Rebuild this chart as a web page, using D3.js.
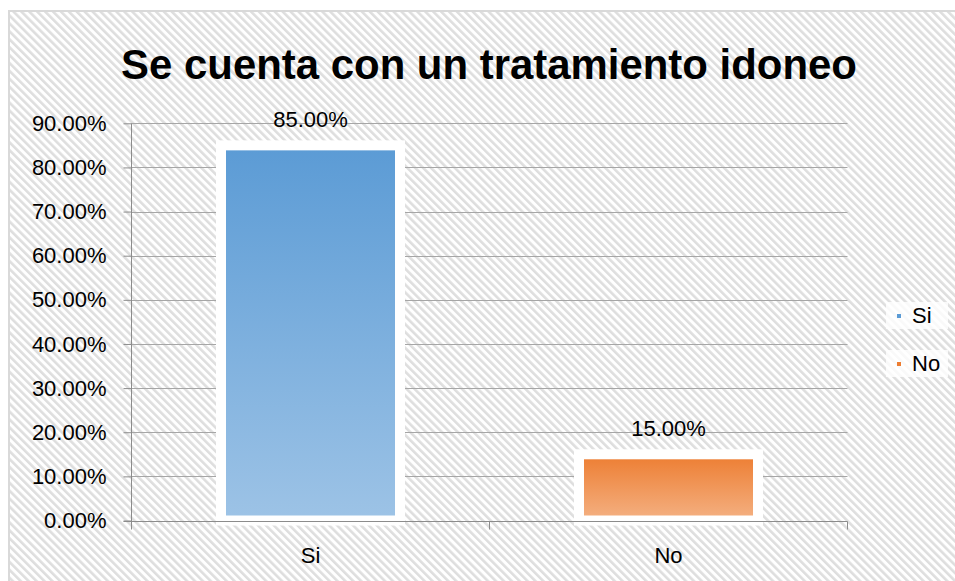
<!DOCTYPE html>
<html>
<head>
<meta charset="utf-8">
<script src="https://cdn.jsdelivr.net/npm/d3@7"></script>
<style>
  html, body { margin: 0; padding: 0; background: #fff; }
  svg { display: block; font-family: "Liberation Sans", Arial, sans-serif; }
</style>
</head>
<body>
<svg id="chart" width="955" height="581"></svg>
<script>
// chart data
const categories = ["Si", "No"];
const values = [0.85, 0.15];
const yTicks = [0, 0.1, 0.2, 0.3, 0.4, 0.5, 0.6, 0.7, 0.8, 0.9];
const title = "Se cuenta con un tratamiento idoneo";
const barColors = [
    { top: "#5b9bd5", bottom: "#9dc3e6" },
    { top: "#ed7d31", bottom: "#f4b183" }
];

const svg = d3.select("#chart");
const fmt = d => (d * 100).toFixed(2) + "%";
const labelSize = 22;

// hatched background
const defs = svg.append("defs");
const pat = defs.append("pattern")
    .attr("id", "hatch")
    .attr("patternUnits", "userSpaceOnUse")
    .attr("width", 5.6)
    .attr("height", 5.6)
    .attr("patternTransform", "rotate(-45)");
pat.append("rect").attr("width", 5.6).attr("height", 5.6).attr("fill", "#ffffff");
pat.append("rect").attr("width", 2.6).attr("height", 5.6).attr("fill", "#dedede");

barColors.forEach((c, i) => {
    const g = defs.append("linearGradient")
        .attr("id", "grad" + i)
        .attr("x1", 0).attr("y1", 0).attr("x2", 0).attr("y2", 1);
    g.append("stop").attr("offset", "0%").attr("stop-color", c.top);
    g.append("stop").attr("offset", "100%").attr("stop-color", c.bottom);
});

svg.append("rect")
    .attr("x", 9).attr("y", 11)
    .attr("width", 960).attr("height", 580)
    .attr("fill", "url(#hatch)")
    .attr("stroke", "#d9d9d9")
    .attr("stroke-width", 2);

// scales
const x = d3.scaleBand()
    .domain(categories)
    .range([131.5, 847.5])
    .paddingInner(0.5)
    .paddingOuter(0.25);

const y = d3.scaleLinear()
    .domain([0, 0.9])
    .range([520.5, 123.3]);

// gridlines
svg.append("g")
    .selectAll("line")
    .data(yTicks.slice(1))
    .join("line")
    .attr("x1", 131.5).attr("x2", 847.5)
    .attr("y1", d => Math.round(y(d)) + 0.5)
    .attr("y2", d => Math.round(y(d)) + 0.5)
    .attr("stroke", "#a6a6a6")
    .attr("stroke-width", 1);

// bars
svg.append("g")
    .selectAll("rect")
    .data(values)
    .join("rect")
    .attr("x", (d, i) => x(categories[i]))
    .attr("width", x.bandwidth())
    .attr("y", d => y(d))
    .attr("height", d => y(0) - y(d))
    .attr("fill", (d, i) => "url(#grad" + i + ")")
    .attr("stroke", "#ffffff")
    .attr("stroke-width", 10);

// y axis
const yAxis = svg.append("g")
    .attr("transform", "translate(131.5,0)")
    .call(d3.axisLeft(y).tickValues(yTicks).tickFormat(fmt).tickSize(8).tickPadding(17));
yAxis.select(".domain").attr("stroke", "#8c8c8c").attr("d", "M0," + y(0.9) + "V" + (y(0) + 8));
yAxis.selectAll(".tick line").attr("stroke", "#8c8c8c");
yAxis.selectAll(".tick text")
    .attr("font-size", labelSize)
    .attr("font-family", "Liberation Sans, Arial, sans-serif")
    .attr("fill", "#000");

// x axis
const xAxis = svg.append("g")
    .attr("transform", "translate(0," + (Math.round(y(0)) + 0.5) + ")")
    .call(d3.axisBottom(x).tickSize(0).tickPadding(26));
xAxis.select(".domain").attr("stroke", "#8c8c8c").attr("d", "M123.5,0H847.5");
xAxis.selectAll(".tick text")
    .attr("font-size", labelSize)
    .attr("font-family", "Liberation Sans, Arial, sans-serif")
    .attr("fill", "#000");
const xBounds = [131.5, 489.5, 847.5];
xAxis.append("g")
    .selectAll("line")
    .data(xBounds)
    .join("line")
    .attr("x1", d => d).attr("x2", d => d)
    .attr("y1", 0).attr("y2", 8)
    .attr("stroke", "#8c8c8c");

// data labels
svg.append("g")
    .selectAll("text")
    .data(values)
    .join("text")
    .attr("x", (d, i) => x(categories[i]) + x.bandwidth() / 2)
    .attr("y", d => y(d) - 18)
    .attr("text-anchor", "middle")
    .attr("font-size", labelSize)
    .attr("fill", "#000")
    .text(fmt);

// title
const t = svg.append("text")
    .attr("x", 489)
    .attr("y", 79)
    .attr("text-anchor", "middle")
    .attr("font-size", 40)
    .attr("font-weight", "bold")
    .attr("fill", "#000")
    .text(title);
const tw = t.node().getComputedTextLength();
t.attr("font-size", 40 * 736 / tw);

// legend
const legend = svg.append("g")
    .selectAll("g")
    .data(categories)
    .join("g")
    .attr("transform", (d, i) => "translate(886," + (302 + i * 48) + ")");
legend.append("rect")
    .attr("width", 62).attr("height", 27)
    .attr("fill", "#ffffff").attr("opacity", 0.8);
legend.append("rect")
    .attr("x", 11).attr("y", 12)
    .attr("width", 4).attr("height", 4)
    .attr("fill", (d, i) => barColors[i].top);
legend.append("text")
    .attr("x", 26).attr("y", 21)
    .attr("font-size", labelSize)
    .attr("fill", "#000")
    .text(d => d);
</script>
</body>
</html>
